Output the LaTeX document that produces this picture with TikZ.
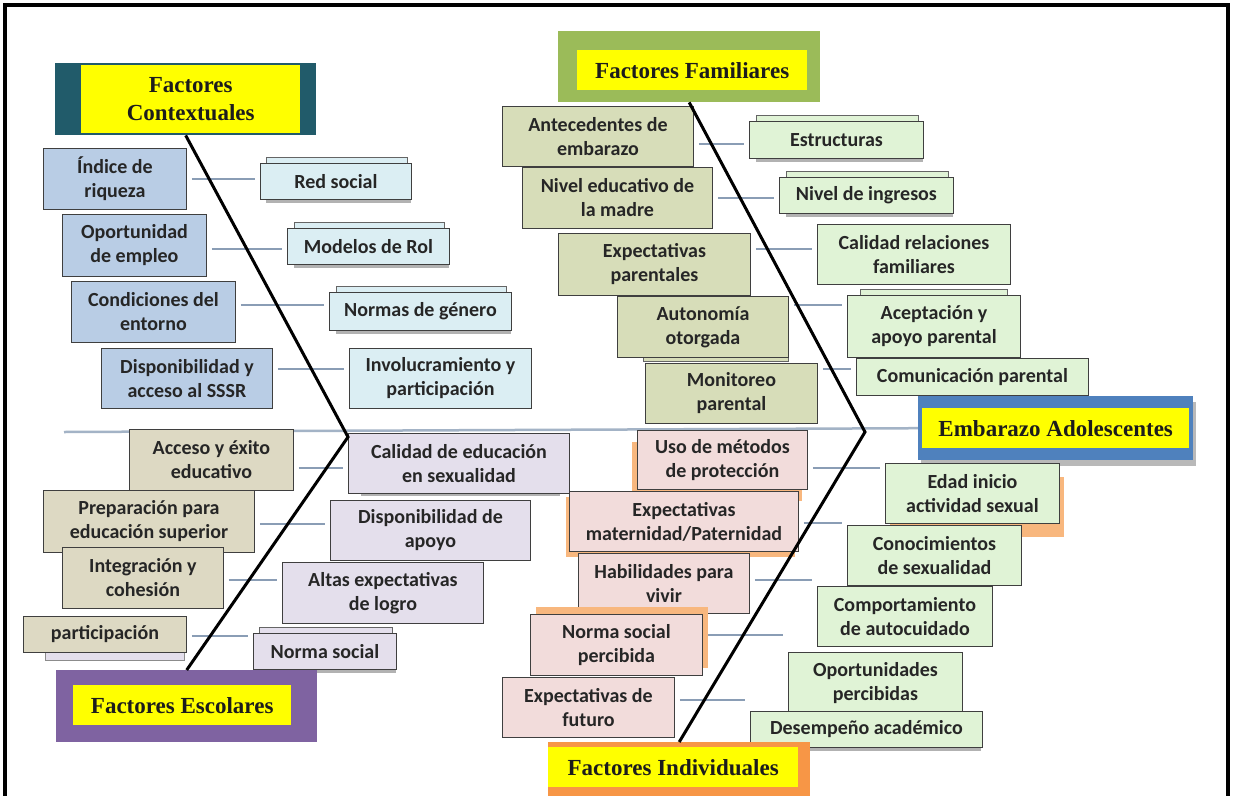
\documentclass[tikz,border=0pt]{standalone}
\usepackage{fontspec}
\setmainfont{Liberation Serif}
\newfontfamily\boxfont{Carlito}
\usetikzlibrary{shadows}
\pgfdeclarelayer{bg}
\pgfsetlayers{bg,main}
\definecolor{boxline}{HTML}{3F3F3F}
\definecolor{txt}{HTML}{262626}
\definecolor{hdrtxt}{HTML}{1C1C1C}
\definecolor{cblue}{HTML}{B9CDE5}
\definecolor{clblue}{HTML}{DBEEF3}
\definecolor{cbrown}{HTML}{DDD9C3}
\definecolor{clav}{HTML}{E4DFEC}
\definecolor{colive}{HTML}{D7DDB9}
\definecolor{cgreen}{HTML}{E0F3D6}
\definecolor{cpink}{HTML}{F2DCDB}
\definecolor{corange}{HTML}{F8B77E}
\definecolor{cteal}{HTML}{215B6A}
\definecolor{cpurple}{HTML}{7F63A1}
\definecolor{cfam}{HTML}{9BBB59}
\definecolor{cemb}{HTML}{4F81BD}
\definecolor{cind}{HTML}{F79646}
\definecolor{cyel}{HTML}{FFFF00}
\definecolor{connc}{HTML}{8A9DB5}
\definecolor{spinec}{HTML}{A3B3C6}
\begin{document}
\begin{tikzpicture}[x=1pt,y=-1pt,
  fb/.style={draw=boxline, line width=0.9pt, text=txt, font=\boxfont\bfseries\fontsize{20}{24}\selectfont, align=center, anchor=north west, inner sep=0pt},
  sz/.style 2 args={minimum width=#1pt, minimum height=#2pt},
  hdrF/.style={anchor=north west, inner sep=0pt, draw=none},
  hdrY/.style={anchor=north west, inner sep=0pt, fill=cyel, text=hdrtxt, font=\bfseries\fontsize{23}{28}\selectfont, align=center},
  stack/.style={general shadow={fill=#1, draw=boxline!80, line width=0.8pt, shadow scale=.93, shadow xshift=1pt, shadow yshift=8pt}},
  gsh/.style={general shadow={fill=gray!60, shadow scale=.96, shadow xshift=3pt, shadow yshift=-4pt}},
  conn/.style={draw=connc, line width=2pt, shorten <=5pt, shorten >=5pt},
  spine/.style={draw=spinec, line width=2.5pt},
  diag/.style={draw=black, line width=3pt, line join=miter},
]
\useasboundingbox (0,0) rectangle (1233,795);
\begin{pgfonlayer}{bg}
\fill[white] (0,0) rectangle (1233,795);
\end{pgfonlayer}

% ---------- Factores Contextuales ----------
\node[hdrF, fill=cteal, sz={261}{72}] (ctxF) at (55,63) {};
\node[hdrY, sz={219}{68}] (ctx) at (81,65) {Factores\\Contextuales};

\node[fb, fill=cblue, sz={143}{61}] (ind) at (43,148) {Índice de\\riqueza};
\node[fb, fill=cblue, sz={144}{62}] (opo) at (62,214) {Oportunidad\\de empleo};
\node[fb, fill=cblue, sz={164}{61}] (con) at (71,281) {Condiciones del\\entorno};
\node[fb, fill=cblue, sz={171}{60}] (dis) at (101,348) {Disponibilidad y\\acceso al SSSR};

\node[fb, fill=clblue, sz={151}{36}, gsh, stack=clblue] (red) at (260,163) {Red social};
\node[fb, fill=clblue, sz={162}{36}, gsh, stack=clblue] (mod) at (287,228) {Modelos de Rol};
\node[fb, fill=clblue, sz={182}{38}, gsh, stack=clblue] (nor) at (329,292) {Normas de género};
\node[fb, fill=clblue, sz={182}{60}] (inv) at (349,348) {Involucramiento y\\participación};

% ---------- Factores Escolares ----------
\node[fb, fill=cbrown, sz={164}{61}] (acc) at (129,429) {Acceso y éxito\\educativo};
\node[fb, fill=cbrown, sz={211}{62}] (pre) at (43,490) {Preparación para\\educación superior};
\node[fb, fill=cbrown, sz={161}{61}] (int) at (62,547) {Integración y\\cohesión};
\node[fb, fill=cbrown, sz={163}{36}, general shadow={fill=clav, draw=boxline!60, shadow scale=.85, shadow xshift=12pt, shadow yshift=-12pt}] (par) at (23,616) {participación};

\node[fb, fill=clav, sz={221}{60}, general shadow={fill=gray!60, shadow scale=.9, shadow yshift=-6pt, shadow xshift=2pt}] (cal) at (348,433) {Calidad de educación\\en sexualidad};
\node[fb, fill=clav, sz={200}{60}] (dap) at (330,500) {Disponibilidad de\\apoyo};
\node[fb, fill=clav, sz={201}{61}] (alt) at (282,562) {Altas expectativas\\de logro};
\node[fb, fill=clav, sz={143}{36}, gsh, stack=clav] (nsoc) at (253,633) {Norma social};

\node[hdrF, fill=cpurple, sz={261}{72}] (escF) at (56,670) {};
\node[hdrY, sz={218}{40}] (esc) at (73,685) {Factores Escolares};

% ---------- Factores Familiares ----------
\node[hdrF, fill=cfam, sz={262}{71}] (famF) at (558,31) {};
\node[hdrY, sz={230}{40}] (fam) at (577,50) {Factores Familiares};

\node[fb, fill=colive, sz={191}{60}] (ant) at (502,106) {Antecedentes de\\embarazo};
\node[fb, fill=colive, sz={190}{61}] (niv) at (522,167) {Nivel educativo de\\la madre};
\node[fb, fill=colive, sz={192}{62}] (exp) at (558,233) {Expectativas\\parentales};
\node[fb, fill=colive, sz={171}{61}, general shadow={fill=colive, draw=boxline!80, shadow scale=.85, shadow xshift=15pt, shadow yshift=-10pt}] (aut) at (617,296) {Autonomía\\otorgada};
\node[fb, fill=colive, sz={172}{60}] (mon) at (645,363) {Monitoreo\\parental};

\node[fb, fill=cgreen, sz={174}{37}, gsh, stack=cgreen] (est) at (749,121) {Estructuras};
\node[fb, fill=cgreen, sz={174}{36}, gsh, stack=cgreen] (ing) at (779,177) {Nivel de ingresos};
\node[fb, fill=cgreen, sz={193}{60}] (crf) at (817,224) {Calidad relaciones\\familiares};
\node[fb, fill=cgreen, sz={173}{62}, general shadow={fill=cgreen, draw=boxline!80, shadow scale=.85, shadow yshift=13pt}] (ace) at (847,295) {Aceptación y\\apoyo parental};
\node[fb, fill=cgreen, sz={232}{37}] (com) at (856,358) {Comunicación parental};

\node[hdrF, fill=cemb, sz={275}{64}, general shadow={fill=gray!55, shadow yshift=-6pt, shadow xshift=3pt}] (embF) at (918,396) {};
\node[hdrY, sz={267}{40}] (emb) at (922,408) {Embarazo Adolescentes};

% ---------- Factores Individuales ----------
\node[fb, fill=cpink, sz={170}{59}, general shadow={fill=corange, shadow xshift=-5pt, shadow yshift=-12pt}] (uso) at (637,430) {Uso de métodos\\de protección};
\node[fb, fill=cpink, sz={229}{60}, general shadow={fill=corange, shadow xshift=-3pt, shadow yshift=-6pt}] (mat) at (569,491) {Expectativas\\maternidad/Paternidad};
\node[fb, fill=cpink, sz={171}{60}] (hab) at (578,553) {Habilidades para\\vivir};
\node[fb, fill=cpink, sz={172}{61}, general shadow={fill=corange, shadow xshift=6pt, shadow yshift=7pt}] (nsp) at (530,614) {Norma social\\percibida};
\node[fb, fill=cpink, sz={172}{60}] (fut) at (502,677) {Expectativas de\\futuro};

\node[fb, fill=cgreen, sz={174}{60}, general shadow={fill=corange, shadow xshift=5pt, shadow yshift=-14pt}] (edad) at (885,463) {Edad inicio\\actividad sexual};
\node[fb, fill=cgreen, sz={174}{60}] (cono) at (847,525) {Conocimientos\\de sexualidad};
\node[fb, fill=cgreen, sz={175}{60}, general shadow={fill=corange, shadow scale=.9, shadow xshift=9pt, shadow yshift=-2pt}] (comp) at (817,586) {Comportamiento\\de autocuidado};
\node[fb, fill=cgreen, sz={174}{61}, general shadow={fill=cgreen, draw=boxline!80, shadow scale=.85, shadow xshift=8pt, shadow yshift=5pt}] (opor) at (788,652) {Oportunidades\\percibidas};
\node[fb, fill=cgreen, sz={232}{36}, gsh] (des) at (750,711) {Desempeño académico};

\node[hdrF, fill=cind, sz={262}{60}] (indvF) at (548,742) {};
\node[hdrY, sz={250}{40}] (indv) at (548,747) {Factores Individuales};

% ---------- spine and connectors ----------
\coordinate (sp) at (64,432);
\coordinate (v1) at (348,437);
\coordinate (v2) at (865,432);
\begin{pgfonlayer}{bg}
\draw[spine] (sp) -- (embF.west);
\draw[conn] (ind.east) -- (ind.east -| red.west);
\draw[conn] ([yshift=-4pt]opo.east) -- ([yshift=-4pt]opo.east -| mod.west);
\draw[conn] ([yshift=7pt]con.east) -- ([yshift=7pt]con.east -| nor.west);
\draw[conn] ([yshift=9pt]dis.east) -- ([yshift=9pt]dis.east -| inv.west);
\draw[conn] ([yshift=-8pt]acc.east) -- ([yshift=-8pt]acc.east -| cal.west);
\draw[conn] ([yshift=-3pt]pre.east) -- ([yshift=-3pt]pre.east -| dap.west);
\draw[conn] ([yshift=-2.5pt]int.east) -- ([yshift=-2.5pt]int.east -| alt.west);
\draw[conn] ([yshift=-2pt]par.east) -- ([yshift=-2pt]par.east -| nsoc.west);
\draw[conn] ([yshift=-8pt]ant.east) -- ([yshift=-8pt]ant.east -| est.west);
\draw[conn] (niv.east) -- (niv.east -| ing.west);
\draw[conn] ([yshift=15pt]exp.east) -- ([yshift=15pt]exp.east -| crf.west);
\draw[conn] ([yshift=22pt]aut.east) -- ([yshift=22pt]aut.east -| ace.west);
\draw[conn] ([yshift=24pt]mon.east) -- ([yshift=24pt]mon.east -| com.west);
\draw[conn] ([yshift=-8.5pt]uso.east) -- ([yshift=-8.5pt]uso.east -| edad.west);
\draw[conn] ([yshift=-2pt]mat.east) -- ([yshift=-2pt]mat.east -| cono.west);
\draw[conn] ([yshift=3pt]hab.east) -- ([yshift=3pt]hab.east -| comp.west);
\draw[conn] ([yshift=9.5pt]nsp.east) -- ([yshift=9.5pt]nsp.east -| opor.west);
\draw[conn] ([yshift=7pt]fut.east) -- ([yshift=7pt]fut.east -| des.west);
\end{pgfonlayer}

% ---------- bones ----------
\draw[diag] (ctxF.south) -- (v1) -- (escF.north);
\draw[diag] (famF.south) -- (v2) -- (indvF.north);

% ---------- frame ----------
\draw[line width=4pt] (5,810) -- (5,5) -- (1228,5) -- (1228,810);
\end{tikzpicture}
\end{document}
